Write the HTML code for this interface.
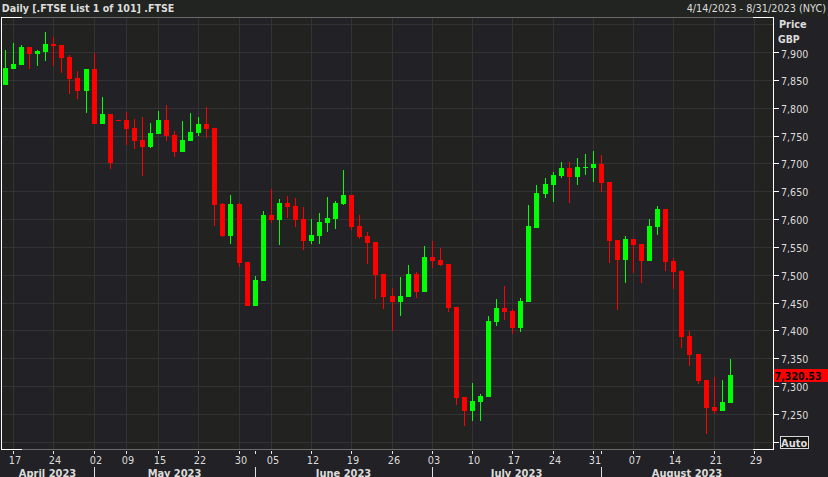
<!DOCTYPE html>
<html><head><meta charset="utf-8"><title>FTSE Daily</title>
<style>html,body{margin:0;padding:0;background:#222125;width:828px;height:477px;overflow:hidden}</style>
</head><body>
<svg width="828" height="477" viewBox="0 0 828 477" shape-rendering="crispEdges" style="position:absolute;left:0;top:0">
<rect x="0" y="0" width="828" height="477" fill="#222125"/>
<rect x="0" y="0" width="828" height="17" fill="#222421"/>
<rect x="2" y="18" width="11" height="431" fill="#222321"/>
<rect x="13" y="18" width="40" height="431" fill="#222126"/>
<rect x="53" y="18" width="41" height="431" fill="#222321"/>
<rect x="94" y="18" width="32" height="431" fill="#222126"/>
<rect x="126" y="18" width="32" height="431" fill="#222321"/>
<rect x="158" y="18" width="40" height="431" fill="#222126"/>
<rect x="198" y="18" width="41" height="431" fill="#222321"/>
<rect x="239" y="18" width="32" height="431" fill="#222126"/>
<rect x="271" y="18" width="40" height="431" fill="#222321"/>
<rect x="311" y="18" width="40" height="431" fill="#222126"/>
<rect x="351" y="18" width="41" height="431" fill="#222321"/>
<rect x="392" y="18" width="40" height="431" fill="#222126"/>
<rect x="432" y="18" width="40" height="431" fill="#222321"/>
<rect x="472" y="18" width="40" height="431" fill="#222126"/>
<rect x="512" y="18" width="41" height="431" fill="#222321"/>
<rect x="553" y="18" width="40" height="431" fill="#222126"/>
<rect x="593" y="18" width="40" height="431" fill="#222321"/>
<rect x="633" y="18" width="40" height="431" fill="#222126"/>
<rect x="673" y="18" width="41" height="431" fill="#222321"/>
<rect x="714" y="18" width="40" height="431" fill="#222126"/>
<rect x="754" y="18" width="19" height="431" fill="#222321"/>
<rect x="2" y="442" width="771" height="1" fill="#333333"/>
<rect x="2" y="414" width="771" height="1" fill="#333333"/>
<rect x="2" y="386" width="771" height="1" fill="#333333"/>
<rect x="2" y="358" width="771" height="1" fill="#333333"/>
<rect x="2" y="330" width="771" height="1" fill="#333333"/>
<rect x="2" y="303" width="771" height="1" fill="#333333"/>
<rect x="2" y="275" width="771" height="1" fill="#333333"/>
<rect x="2" y="247" width="771" height="1" fill="#333333"/>
<rect x="2" y="219" width="771" height="1" fill="#333333"/>
<rect x="2" y="191" width="771" height="1" fill="#333333"/>
<rect x="2" y="163" width="771" height="1" fill="#333333"/>
<rect x="2" y="136" width="771" height="1" fill="#333333"/>
<rect x="2" y="108" width="771" height="1" fill="#333333"/>
<rect x="2" y="80" width="771" height="1" fill="#333333"/>
<rect x="2" y="52" width="771" height="1" fill="#333333"/>
<rect x="2" y="24" width="771" height="1" fill="#333333"/>
<rect x="13" y="18" width="1" height="431" fill="#333333"/>
<rect x="53" y="18" width="1" height="431" fill="#333333"/>
<rect x="94" y="18" width="1" height="431" fill="#333333"/>
<rect x="126" y="18" width="1" height="431" fill="#333333"/>
<rect x="158" y="18" width="1" height="431" fill="#333333"/>
<rect x="198" y="18" width="1" height="431" fill="#333333"/>
<rect x="239" y="18" width="1" height="431" fill="#333333"/>
<rect x="271" y="18" width="1" height="431" fill="#333333"/>
<rect x="311" y="18" width="1" height="431" fill="#333333"/>
<rect x="351" y="18" width="1" height="431" fill="#333333"/>
<rect x="392" y="18" width="1" height="431" fill="#333333"/>
<rect x="432" y="18" width="1" height="431" fill="#333333"/>
<rect x="472" y="18" width="1" height="431" fill="#333333"/>
<rect x="512" y="18" width="1" height="431" fill="#333333"/>
<rect x="553" y="18" width="1" height="431" fill="#333333"/>
<rect x="593" y="18" width="1" height="431" fill="#333333"/>
<rect x="633" y="18" width="1" height="431" fill="#333333"/>
<rect x="673" y="18" width="1" height="431" fill="#333333"/>
<rect x="714" y="18" width="1" height="431" fill="#333333"/>
<rect x="754" y="18" width="1" height="431" fill="#333333"/>
<rect x="1" y="17" width="773" height="1" fill="#6a6a6a"/>
<rect x="1" y="449" width="773" height="1" fill="#6a6a6a"/>
<rect x="1" y="17" width="21" height="1" fill="#fff"/>
<rect x="1" y="449" width="21" height="1" fill="#fff"/>
<rect x="753" y="17" width="21" height="1" fill="#fff"/>
<rect x="753" y="449" width="21" height="1" fill="#fff"/>
<rect x="1" y="17" width="1" height="433" fill="#fff"/>
<rect x="773" y="17" width="1" height="433" fill="#fff"/>
<rect x="5" y="50" width="1" height="35" fill="#00ff00"/>
<rect x="3" y="68" width="5" height="17" fill="#00ff00"/>
<rect x="13" y="43" width="1" height="26" fill="#00ff00"/>
<rect x="11" y="64" width="5" height="5" fill="#00ff00"/>
<rect x="21" y="45" width="1" height="20" fill="#00ff00"/>
<rect x="19" y="47" width="5" height="18" fill="#00ff00"/>
<rect x="29" y="47" width="1" height="22" fill="#ff0000"/>
<rect x="27" y="47" width="5" height="7" fill="#ff0000"/>
<rect x="37" y="50" width="1" height="16" fill="#00ff00"/>
<rect x="35" y="51" width="5" height="3" fill="#00ff00"/>
<rect x="45" y="32" width="1" height="29" fill="#00ff00"/>
<rect x="43" y="44" width="5" height="8" fill="#00ff00"/>
<rect x="53" y="37" width="1" height="29" fill="#ff0000"/>
<rect x="51" y="44" width="5" height="2" fill="#ff0000"/>
<rect x="61" y="45" width="1" height="28" fill="#ff0000"/>
<rect x="59" y="45" width="5" height="13" fill="#ff0000"/>
<rect x="69" y="55" width="1" height="39" fill="#ff0000"/>
<rect x="67" y="57" width="5" height="22" fill="#ff0000"/>
<rect x="77" y="71" width="1" height="28" fill="#ff0000"/>
<rect x="75" y="78" width="5" height="13" fill="#ff0000"/>
<rect x="86" y="69" width="1" height="44" fill="#00ff00"/>
<rect x="84" y="69" width="5" height="22" fill="#00ff00"/>
<rect x="94" y="53" width="1" height="71" fill="#ff0000"/>
<rect x="92" y="69" width="5" height="55" fill="#ff0000"/>
<rect x="102" y="97" width="1" height="27" fill="#00ff00"/>
<rect x="100" y="114" width="5" height="10" fill="#00ff00"/>
<rect x="110" y="114" width="1" height="55" fill="#ff0000"/>
<rect x="108" y="114" width="5" height="49" fill="#ff0000"/>
<rect x="118" y="120" width="1" height="1" fill="#ff0000"/>
<rect x="116" y="120" width="5" height="1" fill="#ff0000"/>
<rect x="126" y="112" width="1" height="33" fill="#ff0000"/>
<rect x="124" y="120" width="5" height="9" fill="#ff0000"/>
<rect x="134" y="119" width="1" height="30" fill="#ff0000"/>
<rect x="132" y="128" width="5" height="13" fill="#ff0000"/>
<rect x="142" y="117" width="1" height="59" fill="#ff0000"/>
<rect x="140" y="140" width="5" height="7" fill="#ff0000"/>
<rect x="150" y="123" width="1" height="25" fill="#00ff00"/>
<rect x="148" y="133" width="5" height="14" fill="#00ff00"/>
<rect x="158" y="111" width="1" height="23" fill="#00ff00"/>
<rect x="156" y="120" width="5" height="14" fill="#00ff00"/>
<rect x="166" y="105" width="1" height="36" fill="#ff0000"/>
<rect x="164" y="120" width="5" height="16" fill="#ff0000"/>
<rect x="174" y="131" width="1" height="26" fill="#ff0000"/>
<rect x="172" y="135" width="5" height="17" fill="#ff0000"/>
<rect x="182" y="121" width="1" height="31" fill="#00ff00"/>
<rect x="180" y="140" width="5" height="12" fill="#00ff00"/>
<rect x="190" y="113" width="1" height="28" fill="#00ff00"/>
<rect x="188" y="132" width="5" height="9" fill="#00ff00"/>
<rect x="198" y="117" width="1" height="19" fill="#00ff00"/>
<rect x="196" y="124" width="5" height="9" fill="#00ff00"/>
<rect x="206" y="107" width="1" height="31" fill="#ff0000"/>
<rect x="204" y="124" width="5" height="5" fill="#ff0000"/>
<rect x="214" y="128" width="1" height="98" fill="#ff0000"/>
<rect x="212" y="128" width="5" height="77" fill="#ff0000"/>
<rect x="222" y="203" width="1" height="34" fill="#ff0000"/>
<rect x="220" y="204" width="5" height="32" fill="#ff0000"/>
<rect x="230" y="195" width="1" height="49" fill="#00ff00"/>
<rect x="228" y="204" width="5" height="32" fill="#00ff00"/>
<rect x="239" y="203" width="1" height="64" fill="#ff0000"/>
<rect x="237" y="204" width="5" height="59" fill="#ff0000"/>
<rect x="247" y="262" width="1" height="44" fill="#ff0000"/>
<rect x="245" y="262" width="5" height="44" fill="#ff0000"/>
<rect x="255" y="276" width="1" height="30" fill="#00ff00"/>
<rect x="253" y="280" width="5" height="26" fill="#00ff00"/>
<rect x="263" y="211" width="1" height="70" fill="#00ff00"/>
<rect x="261" y="215" width="5" height="66" fill="#00ff00"/>
<rect x="271" y="189" width="1" height="34" fill="#ff0000"/>
<rect x="269" y="215" width="5" height="5" fill="#ff0000"/>
<rect x="279" y="199" width="1" height="46" fill="#00ff00"/>
<rect x="277" y="203" width="5" height="17" fill="#00ff00"/>
<rect x="287" y="196" width="1" height="22" fill="#ff0000"/>
<rect x="285" y="203" width="5" height="4" fill="#ff0000"/>
<rect x="295" y="198" width="1" height="29" fill="#ff0000"/>
<rect x="293" y="206" width="5" height="14" fill="#ff0000"/>
<rect x="303" y="207" width="1" height="43" fill="#ff0000"/>
<rect x="301" y="219" width="5" height="22" fill="#ff0000"/>
<rect x="311" y="219" width="1" height="25" fill="#00ff00"/>
<rect x="309" y="235" width="5" height="6" fill="#00ff00"/>
<rect x="319" y="213" width="1" height="31" fill="#00ff00"/>
<rect x="317" y="222" width="5" height="14" fill="#00ff00"/>
<rect x="327" y="197" width="1" height="35" fill="#00ff00"/>
<rect x="325" y="218" width="5" height="5" fill="#00ff00"/>
<rect x="335" y="201" width="1" height="28" fill="#00ff00"/>
<rect x="333" y="203" width="5" height="16" fill="#00ff00"/>
<rect x="343" y="170" width="1" height="35" fill="#00ff00"/>
<rect x="341" y="195" width="5" height="9" fill="#00ff00"/>
<rect x="351" y="195" width="1" height="35" fill="#ff0000"/>
<rect x="349" y="195" width="5" height="32" fill="#ff0000"/>
<rect x="359" y="215" width="1" height="24" fill="#ff0000"/>
<rect x="357" y="226" width="5" height="11" fill="#ff0000"/>
<rect x="367" y="232" width="1" height="32" fill="#ff0000"/>
<rect x="365" y="236" width="5" height="7" fill="#ff0000"/>
<rect x="375" y="242" width="1" height="57" fill="#ff0000"/>
<rect x="373" y="242" width="5" height="33" fill="#ff0000"/>
<rect x="383" y="274" width="1" height="35" fill="#ff0000"/>
<rect x="381" y="274" width="5" height="23" fill="#ff0000"/>
<rect x="392" y="288" width="1" height="43" fill="#ff0000"/>
<rect x="390" y="296" width="5" height="6" fill="#ff0000"/>
<rect x="400" y="277" width="1" height="39" fill="#00ff00"/>
<rect x="398" y="296" width="5" height="6" fill="#00ff00"/>
<rect x="408" y="265" width="1" height="32" fill="#00ff00"/>
<rect x="406" y="274" width="5" height="23" fill="#00ff00"/>
<rect x="416" y="272" width="1" height="26" fill="#ff0000"/>
<rect x="414" y="274" width="5" height="18" fill="#ff0000"/>
<rect x="424" y="246" width="1" height="46" fill="#00ff00"/>
<rect x="422" y="257" width="5" height="35" fill="#00ff00"/>
<rect x="432" y="241" width="1" height="27" fill="#ff0000"/>
<rect x="430" y="257" width="5" height="4" fill="#ff0000"/>
<rect x="440" y="248" width="1" height="18" fill="#ff0000"/>
<rect x="438" y="260" width="5" height="5" fill="#ff0000"/>
<rect x="448" y="264" width="1" height="48" fill="#ff0000"/>
<rect x="446" y="264" width="5" height="44" fill="#ff0000"/>
<rect x="456" y="307" width="1" height="98" fill="#ff0000"/>
<rect x="454" y="307" width="5" height="91" fill="#ff0000"/>
<rect x="464" y="397" width="1" height="29" fill="#ff0000"/>
<rect x="462" y="397" width="5" height="14" fill="#ff0000"/>
<rect x="472" y="383" width="1" height="38" fill="#00ff00"/>
<rect x="470" y="401" width="5" height="10" fill="#00ff00"/>
<rect x="480" y="394" width="1" height="27" fill="#00ff00"/>
<rect x="478" y="396" width="5" height="6" fill="#00ff00"/>
<rect x="488" y="316" width="1" height="81" fill="#00ff00"/>
<rect x="486" y="321" width="5" height="76" fill="#00ff00"/>
<rect x="496" y="299" width="1" height="27" fill="#00ff00"/>
<rect x="494" y="308" width="5" height="14" fill="#00ff00"/>
<rect x="504" y="286" width="1" height="34" fill="#ff0000"/>
<rect x="502" y="308" width="5" height="4" fill="#ff0000"/>
<rect x="512" y="309" width="1" height="25" fill="#ff0000"/>
<rect x="510" y="311" width="5" height="17" fill="#ff0000"/>
<rect x="520" y="298" width="1" height="34" fill="#00ff00"/>
<rect x="518" y="301" width="5" height="27" fill="#00ff00"/>
<rect x="528" y="205" width="1" height="97" fill="#00ff00"/>
<rect x="526" y="226" width="5" height="76" fill="#00ff00"/>
<rect x="536" y="185" width="1" height="43" fill="#00ff00"/>
<rect x="534" y="193" width="5" height="35" fill="#00ff00"/>
<rect x="545" y="178" width="1" height="20" fill="#00ff00"/>
<rect x="543" y="184" width="5" height="10" fill="#00ff00"/>
<rect x="553" y="172" width="1" height="30" fill="#00ff00"/>
<rect x="551" y="175" width="5" height="10" fill="#00ff00"/>
<rect x="561" y="162" width="1" height="16" fill="#00ff00"/>
<rect x="559" y="168" width="5" height="8" fill="#00ff00"/>
<rect x="569" y="162" width="1" height="41" fill="#ff0000"/>
<rect x="567" y="168" width="5" height="9" fill="#ff0000"/>
<rect x="577" y="158" width="1" height="27" fill="#00ff00"/>
<rect x="575" y="167" width="5" height="10" fill="#00ff00"/>
<rect x="585" y="154" width="1" height="21" fill="#00ff00"/>
<rect x="583" y="167" width="5" height="1" fill="#00ff00"/>
<rect x="593" y="151" width="1" height="31" fill="#00ff00"/>
<rect x="591" y="164" width="5" height="4" fill="#00ff00"/>
<rect x="601" y="155" width="1" height="37" fill="#ff0000"/>
<rect x="599" y="164" width="5" height="19" fill="#ff0000"/>
<rect x="609" y="182" width="1" height="81" fill="#ff0000"/>
<rect x="607" y="182" width="5" height="59" fill="#ff0000"/>
<rect x="617" y="240" width="1" height="70" fill="#ff0000"/>
<rect x="615" y="240" width="5" height="20" fill="#ff0000"/>
<rect x="625" y="236" width="1" height="47" fill="#00ff00"/>
<rect x="623" y="239" width="5" height="21" fill="#00ff00"/>
<rect x="633" y="239" width="1" height="34" fill="#ff0000"/>
<rect x="631" y="239" width="5" height="6" fill="#ff0000"/>
<rect x="641" y="244" width="1" height="39" fill="#ff0000"/>
<rect x="639" y="244" width="5" height="17" fill="#ff0000"/>
<rect x="649" y="219" width="1" height="42" fill="#00ff00"/>
<rect x="647" y="226" width="5" height="35" fill="#00ff00"/>
<rect x="657" y="206" width="1" height="29" fill="#00ff00"/>
<rect x="655" y="209" width="5" height="18" fill="#00ff00"/>
<rect x="665" y="209" width="1" height="62" fill="#ff0000"/>
<rect x="663" y="209" width="5" height="53" fill="#ff0000"/>
<rect x="673" y="258" width="1" height="31" fill="#ff0000"/>
<rect x="671" y="261" width="5" height="11" fill="#ff0000"/>
<rect x="681" y="270" width="1" height="78" fill="#ff0000"/>
<rect x="679" y="271" width="5" height="66" fill="#ff0000"/>
<rect x="689" y="331" width="1" height="35" fill="#ff0000"/>
<rect x="687" y="336" width="5" height="19" fill="#ff0000"/>
<rect x="698" y="354" width="1" height="30" fill="#ff0000"/>
<rect x="696" y="354" width="5" height="27" fill="#ff0000"/>
<rect x="706" y="380" width="1" height="54" fill="#ff0000"/>
<rect x="704" y="380" width="5" height="28" fill="#ff0000"/>
<rect x="714" y="377" width="1" height="37" fill="#ff0000"/>
<rect x="712" y="407" width="5" height="4" fill="#ff0000"/>
<rect x="722" y="380" width="1" height="31" fill="#00ff00"/>
<rect x="720" y="402" width="5" height="9" fill="#00ff00"/>
<rect x="730" y="359" width="1" height="44" fill="#00ff00"/>
<rect x="728" y="375" width="5" height="28" fill="#00ff00"/>
<rect x="774" y="442" width="5" height="1" fill="#fff"/>
<rect x="774" y="414" width="5" height="1" fill="#fff"/>
<rect x="774" y="386" width="5" height="1" fill="#fff"/>
<rect x="774" y="358" width="5" height="1" fill="#fff"/>
<rect x="774" y="330" width="5" height="1" fill="#fff"/>
<rect x="774" y="303" width="5" height="1" fill="#fff"/>
<rect x="774" y="275" width="5" height="1" fill="#fff"/>
<rect x="774" y="247" width="5" height="1" fill="#fff"/>
<rect x="774" y="219" width="5" height="1" fill="#fff"/>
<rect x="774" y="191" width="5" height="1" fill="#fff"/>
<rect x="774" y="163" width="5" height="1" fill="#fff"/>
<rect x="774" y="136" width="5" height="1" fill="#fff"/>
<rect x="774" y="108" width="5" height="1" fill="#fff"/>
<rect x="774" y="80" width="5" height="1" fill="#fff"/>
<rect x="774" y="52" width="5" height="1" fill="#fff"/>
<rect x="13" y="451" width="1" height="3" fill="#e8e8e8"/>
<rect x="53" y="451" width="1" height="3" fill="#e8e8e8"/>
<rect x="94" y="451" width="1" height="3" fill="#e8e8e8"/>
<rect x="126" y="451" width="1" height="3" fill="#e8e8e8"/>
<rect x="158" y="451" width="1" height="3" fill="#e8e8e8"/>
<rect x="198" y="451" width="1" height="3" fill="#e8e8e8"/>
<rect x="239" y="451" width="1" height="3" fill="#e8e8e8"/>
<rect x="271" y="451" width="1" height="3" fill="#e8e8e8"/>
<rect x="311" y="451" width="1" height="3" fill="#e8e8e8"/>
<rect x="351" y="451" width="1" height="3" fill="#e8e8e8"/>
<rect x="392" y="451" width="1" height="3" fill="#e8e8e8"/>
<rect x="432" y="451" width="1" height="3" fill="#e8e8e8"/>
<rect x="472" y="451" width="1" height="3" fill="#e8e8e8"/>
<rect x="512" y="451" width="1" height="3" fill="#e8e8e8"/>
<rect x="553" y="451" width="1" height="3" fill="#e8e8e8"/>
<rect x="593" y="451" width="1" height="3" fill="#e8e8e8"/>
<rect x="633" y="451" width="1" height="3" fill="#e8e8e8"/>
<rect x="673" y="451" width="1" height="3" fill="#e8e8e8"/>
<rect x="714" y="451" width="1" height="3" fill="#e8e8e8"/>
<rect x="754" y="451" width="1" height="3" fill="#e8e8e8"/>
<rect x="255" y="451" width="1" height="3" fill="#e8e8e8"/>
<rect x="432" y="451" width="1" height="3" fill="#e8e8e8"/>
<rect x="601" y="451" width="1" height="3" fill="#e8e8e8"/>
<rect x="94" y="467" width="1" height="10" fill="#e0e0e0"/>
<rect x="255" y="467" width="1" height="10" fill="#e0e0e0"/>
<rect x="432" y="467" width="1" height="10" fill="#e0e0e0"/>
<rect x="601" y="467" width="1" height="10" fill="#e0e0e0"/>
<rect x="774" y="369" width="54" height="13" fill="#ff0000"/>
<rect x="780.5" y="436.5" width="28" height="12" fill="#141414" stroke="#d8d8d8" stroke-width="1"/>
<text x="1.8" y="12" font-family="'DejaVu Sans Condensed', 'Liberation Sans', sans-serif" font-size="10.6" font-weight="bold" text-anchor="start" fill="#dcdcdc" >Daily [.FTSE List 1 of 101] .FTSE</text>
<text x="826" y="12" font-family="'DejaVu Sans Condensed', 'Liberation Sans', sans-serif" font-size="10.8" font-weight="normal" text-anchor="end" fill="#dcdcdc" >4/14/2023 - 8/31/2023 (NYC)</text>
<text x="779" y="28" font-family="'DejaVu Sans Condensed', 'Liberation Sans', sans-serif" font-size="10.8" font-weight="bold" text-anchor="start" fill="#dcdcdc" >Price</text>
<text x="778" y="43" font-family="'DejaVu Sans Condensed', 'Liberation Sans', sans-serif" font-size="10.4" font-weight="bold" text-anchor="start" fill="#dcdcdc" >GBP</text>
<text x="781" y="418.5" font-family="'DejaVu Sans Condensed', 'Liberation Sans', sans-serif" font-size="10.6" font-weight="normal" text-anchor="start" fill="#dcdcdc" >7,250</text>
<text x="781" y="390.5" font-family="'DejaVu Sans Condensed', 'Liberation Sans', sans-serif" font-size="10.6" font-weight="normal" text-anchor="start" fill="#dcdcdc" >7,300</text>
<text x="781" y="362.5" font-family="'DejaVu Sans Condensed', 'Liberation Sans', sans-serif" font-size="10.6" font-weight="normal" text-anchor="start" fill="#dcdcdc" >7,350</text>
<text x="781" y="334.5" font-family="'DejaVu Sans Condensed', 'Liberation Sans', sans-serif" font-size="10.6" font-weight="normal" text-anchor="start" fill="#dcdcdc" >7,400</text>
<text x="781" y="307.5" font-family="'DejaVu Sans Condensed', 'Liberation Sans', sans-serif" font-size="10.6" font-weight="normal" text-anchor="start" fill="#dcdcdc" >7,450</text>
<text x="781" y="279.5" font-family="'DejaVu Sans Condensed', 'Liberation Sans', sans-serif" font-size="10.6" font-weight="normal" text-anchor="start" fill="#dcdcdc" >7,500</text>
<text x="781" y="251.5" font-family="'DejaVu Sans Condensed', 'Liberation Sans', sans-serif" font-size="10.6" font-weight="normal" text-anchor="start" fill="#dcdcdc" >7,550</text>
<text x="781" y="223.5" font-family="'DejaVu Sans Condensed', 'Liberation Sans', sans-serif" font-size="10.6" font-weight="normal" text-anchor="start" fill="#dcdcdc" >7,600</text>
<text x="781" y="195.5" font-family="'DejaVu Sans Condensed', 'Liberation Sans', sans-serif" font-size="10.6" font-weight="normal" text-anchor="start" fill="#dcdcdc" >7,650</text>
<text x="781" y="167.5" font-family="'DejaVu Sans Condensed', 'Liberation Sans', sans-serif" font-size="10.6" font-weight="normal" text-anchor="start" fill="#dcdcdc" >7,700</text>
<text x="781" y="140.5" font-family="'DejaVu Sans Condensed', 'Liberation Sans', sans-serif" font-size="10.6" font-weight="normal" text-anchor="start" fill="#dcdcdc" >7,750</text>
<text x="781" y="112.5" font-family="'DejaVu Sans Condensed', 'Liberation Sans', sans-serif" font-size="10.6" font-weight="normal" text-anchor="start" fill="#dcdcdc" >7,800</text>
<text x="781" y="84.5" font-family="'DejaVu Sans Condensed', 'Liberation Sans', sans-serif" font-size="10.6" font-weight="normal" text-anchor="start" fill="#dcdcdc" >7,850</text>
<text x="781" y="57.5" font-family="'DejaVu Sans Condensed', 'Liberation Sans', sans-serif" font-size="10.6" font-weight="normal" text-anchor="start" fill="#dcdcdc" >7,900</text>
<text x="774.6" y="379.6" font-family="'DejaVu Sans Condensed', 'Liberation Sans', sans-serif" font-size="10.6" font-weight="bold" text-anchor="start" fill="#000" >7,320.53</text>
<text x="781" y="447" font-family="'DejaVu Sans Condensed', 'Liberation Sans', sans-serif" font-size="11" font-weight="bold" text-anchor="start" fill="#dcdcdc" >Auto</text>
<text x="15" y="464" font-family="'DejaVu Sans Condensed', 'Liberation Sans', sans-serif" font-size="10.8" font-weight="normal" text-anchor="middle" fill="#dcdcdc" >17</text>
<text x="55" y="464" font-family="'DejaVu Sans Condensed', 'Liberation Sans', sans-serif" font-size="10.8" font-weight="normal" text-anchor="middle" fill="#dcdcdc" >24</text>
<text x="96" y="464" font-family="'DejaVu Sans Condensed', 'Liberation Sans', sans-serif" font-size="10.8" font-weight="normal" text-anchor="middle" fill="#dcdcdc" >02</text>
<text x="128" y="464" font-family="'DejaVu Sans Condensed', 'Liberation Sans', sans-serif" font-size="10.8" font-weight="normal" text-anchor="middle" fill="#dcdcdc" >09</text>
<text x="160" y="464" font-family="'DejaVu Sans Condensed', 'Liberation Sans', sans-serif" font-size="10.8" font-weight="normal" text-anchor="middle" fill="#dcdcdc" >15</text>
<text x="200" y="464" font-family="'DejaVu Sans Condensed', 'Liberation Sans', sans-serif" font-size="10.8" font-weight="normal" text-anchor="middle" fill="#dcdcdc" >22</text>
<text x="241" y="464" font-family="'DejaVu Sans Condensed', 'Liberation Sans', sans-serif" font-size="10.8" font-weight="normal" text-anchor="middle" fill="#dcdcdc" >30</text>
<text x="273" y="464" font-family="'DejaVu Sans Condensed', 'Liberation Sans', sans-serif" font-size="10.8" font-weight="normal" text-anchor="middle" fill="#dcdcdc" >05</text>
<text x="313" y="464" font-family="'DejaVu Sans Condensed', 'Liberation Sans', sans-serif" font-size="10.8" font-weight="normal" text-anchor="middle" fill="#dcdcdc" >12</text>
<text x="353" y="464" font-family="'DejaVu Sans Condensed', 'Liberation Sans', sans-serif" font-size="10.8" font-weight="normal" text-anchor="middle" fill="#dcdcdc" >19</text>
<text x="394" y="464" font-family="'DejaVu Sans Condensed', 'Liberation Sans', sans-serif" font-size="10.8" font-weight="normal" text-anchor="middle" fill="#dcdcdc" >26</text>
<text x="434" y="464" font-family="'DejaVu Sans Condensed', 'Liberation Sans', sans-serif" font-size="10.8" font-weight="normal" text-anchor="middle" fill="#dcdcdc" >03</text>
<text x="474" y="464" font-family="'DejaVu Sans Condensed', 'Liberation Sans', sans-serif" font-size="10.8" font-weight="normal" text-anchor="middle" fill="#dcdcdc" >10</text>
<text x="514" y="464" font-family="'DejaVu Sans Condensed', 'Liberation Sans', sans-serif" font-size="10.8" font-weight="normal" text-anchor="middle" fill="#dcdcdc" >17</text>
<text x="555" y="464" font-family="'DejaVu Sans Condensed', 'Liberation Sans', sans-serif" font-size="10.8" font-weight="normal" text-anchor="middle" fill="#dcdcdc" >24</text>
<text x="595" y="464" font-family="'DejaVu Sans Condensed', 'Liberation Sans', sans-serif" font-size="10.8" font-weight="normal" text-anchor="middle" fill="#dcdcdc" >31</text>
<text x="635" y="464" font-family="'DejaVu Sans Condensed', 'Liberation Sans', sans-serif" font-size="10.8" font-weight="normal" text-anchor="middle" fill="#dcdcdc" >07</text>
<text x="675" y="464" font-family="'DejaVu Sans Condensed', 'Liberation Sans', sans-serif" font-size="10.8" font-weight="normal" text-anchor="middle" fill="#dcdcdc" >14</text>
<text x="716" y="464" font-family="'DejaVu Sans Condensed', 'Liberation Sans', sans-serif" font-size="10.8" font-weight="normal" text-anchor="middle" fill="#dcdcdc" >21</text>
<text x="756" y="464" font-family="'DejaVu Sans Condensed', 'Liberation Sans', sans-serif" font-size="10.8" font-weight="normal" text-anchor="middle" fill="#dcdcdc" >29</text>
<text x="47.5" y="476.8" font-family="'DejaVu Sans Condensed', 'Liberation Sans', sans-serif" font-size="11" font-weight="bold" text-anchor="middle" fill="#dcdcdc" >April 2023</text>
<text x="174.5" y="476.8" font-family="'DejaVu Sans Condensed', 'Liberation Sans', sans-serif" font-size="11" font-weight="bold" text-anchor="middle" fill="#dcdcdc" >May 2023</text>
<text x="343.5" y="476.8" font-family="'DejaVu Sans Condensed', 'Liberation Sans', sans-serif" font-size="11" font-weight="bold" text-anchor="middle" fill="#dcdcdc" >June 2023</text>
<text x="516.5" y="476.8" font-family="'DejaVu Sans Condensed', 'Liberation Sans', sans-serif" font-size="11" font-weight="bold" text-anchor="middle" fill="#dcdcdc" >July 2023</text>
<text x="687.0" y="476.8" font-family="'DejaVu Sans Condensed', 'Liberation Sans', sans-serif" font-size="11" font-weight="bold" text-anchor="middle" fill="#dcdcdc" >August 2023</text>
</svg>
</body></html>
